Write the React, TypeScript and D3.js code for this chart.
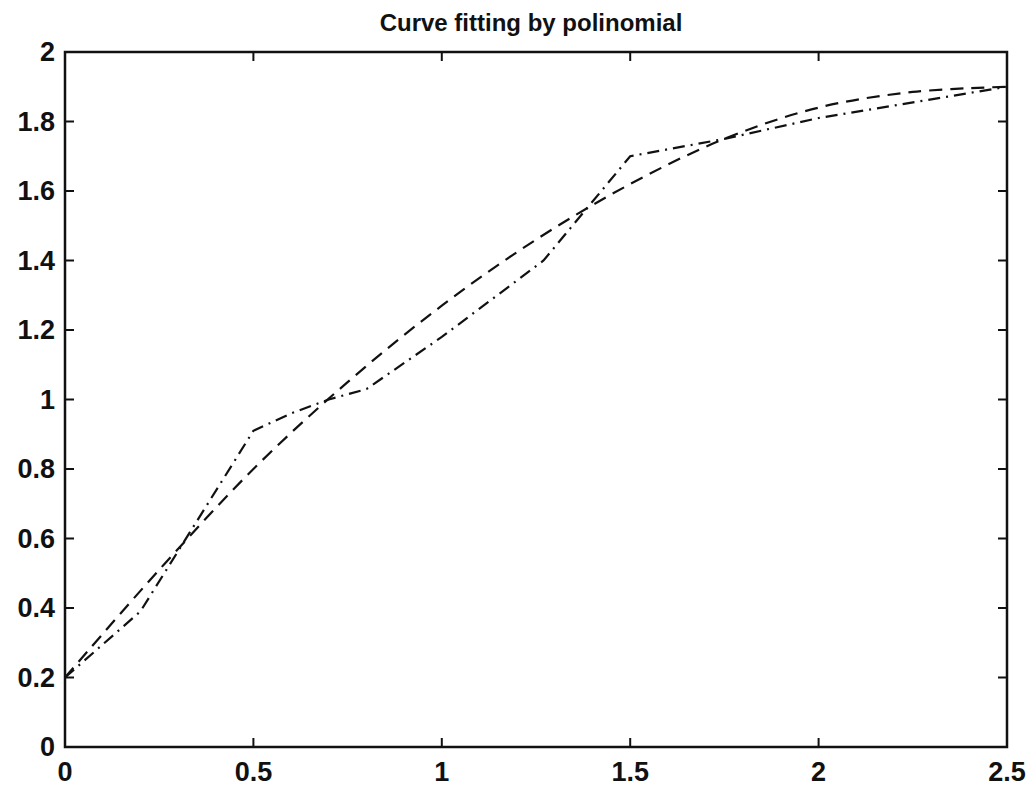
import React, { useEffect, useRef } from "react";
import * as d3 from "d3";

const title = "Curve fitting by polinomial";
const xTicks = [0, 0.5, 1, 1.5, 2, 2.5];
const yTicks = [0, 0.2, 0.4, 0.6, 0.8, 1, 1.2, 1.4, 1.6, 1.8, 2];

// measured data (dash-dot)
const dataX = [0, 0.2, 0.5, 0.6, 0.7, 0.8, 1.0, 1.27, 1.5, 1.75, 2.0, 2.5];
const dataY = [0.2, 0.39, 0.91, 0.96, 1.0, 1.03, 1.18, 1.4, 1.7, 1.75, 1.81, 1.9];

// polynomial fit (dashed)
const fitX = [0, 0.25, 0.5, 0.75, 1.0, 1.25, 1.5, 1.75, 2.0, 2.25, 2.5];
const fitY = [0.2, 0.51, 0.8, 1.05, 1.27, 1.46, 1.62, 1.75, 1.84, 1.885, 1.9];

export default function App() {
  const ref = useRef<SVGSVGElement>(null);

  useEffect(() => {
    const svgWidth = 1032, svgHeight = 787;
    const margin = { top: 52, right: 25, bottom: 40, left: 65 };
    const width = svgWidth - margin.left - margin.right;
    const height = svgHeight - margin.top - margin.bottom;

    const svg = d3.select(ref.current);
    svg.selectAll("*").remove();

    const g = svg.append("g")
      .attr("transform", "translate(" + margin.left + "," + margin.top + ")");

    const x = d3.scaleLinear().domain([0, 2.5]).range([0, width]);
    const y = d3.scaleLinear().domain([0, 2]).range([height, 0]);

    const font = "'Liberation Sans', Arial, sans-serif";
    const tickLen = 9;

    // ticks on all four sides, pointing inward
    xTicks.forEach(t => {
      g.append("line").attr("x1", x(t)).attr("x2", x(t))
        .attr("y1", height).attr("y2", height - tickLen)
        .attr("stroke", "#111").attr("stroke-width", 2);
      g.append("line").attr("x1", x(t)).attr("x2", x(t))
        .attr("y1", 0).attr("y2", tickLen)
        .attr("stroke", "#111").attr("stroke-width", 2);
      g.append("text")
        .attr("x", x(t)).attr("y", height + 34)
        .attr("text-anchor", "middle")
        .attr("font-family", font).attr("font-size", 27)
        .attr("font-weight", "bold").attr("fill", "#111")
        .text(String(t));
    });

    yTicks.forEach(t => {
      g.append("line").attr("x1", 0).attr("x2", tickLen)
        .attr("y1", y(t)).attr("y2", y(t))
        .attr("stroke", "#111").attr("stroke-width", 2);
      g.append("line").attr("x1", width).attr("x2", width - tickLen)
        .attr("y1", y(t)).attr("y2", y(t))
        .attr("stroke", "#111").attr("stroke-width", 2);
      g.append("text")
        .attr("x", -10).attr("y", y(t) + 9)
        .attr("text-anchor", "end")
        .attr("font-family", font).attr("font-size", 27)
        .attr("font-weight", "bold").attr("fill", "#111")
        .text(String(t));
    });

    // axes box
    g.append("rect")
      .attr("width", width).attr("height", height)
      .attr("fill", "none").attr("stroke", "#111").attr("stroke-width", 2.5);

    const line = d3.line<number>()
      .x((d, i) => x(dataX[i]))
      .y(d => y(d));

    g.append("path")
      .datum(dataY)
      .attr("fill", "none")
      .attr("stroke", "#111")
      .attr("stroke-width", 2.2)
      .attr("stroke-dasharray", "12,6,2,6")
      .attr("d", line);

    const fitLine = d3.line<number>()
      .x((d, i) => x(fitX[i]))
      .y(d => y(d))
      .curve(d3.curveCatmullRom);

    g.append("path")
      .datum(fitY)
      .attr("fill", "none")
      .attr("stroke", "#111")
      .attr("stroke-width", 2.2)
      .attr("stroke-dasharray", "13,8")
      .attr("d", fitLine);

    svg.append("text")
      .attr("x", margin.left + width / 2 - 5).attr("y", 31)
      .attr("text-anchor", "middle")
      .attr("font-family", font).attr("font-size", 24)
      .attr("font-weight", "bold").attr("fill", "#111")
      .text(title);
  }, []);

  return (
    <svg ref={ref} width={1032} height={787}
      style={{ position: "absolute", left: 0, top: 0, background: "#fff" }} />
  );
}
